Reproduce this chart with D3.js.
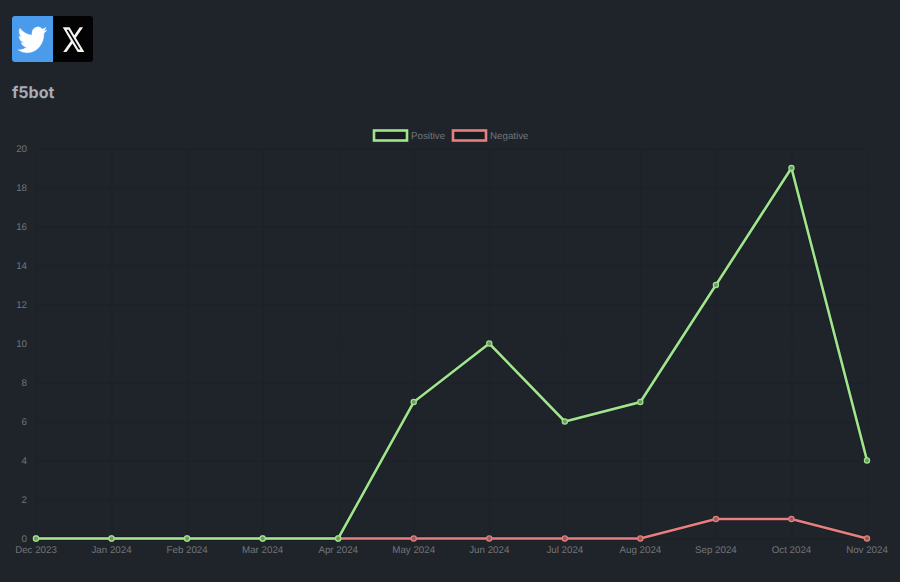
<!DOCTYPE html>
<html>
<head>
    <meta charset="utf-8">
    <title>f5bot</title>
    <script src="https://cdnjs.cloudflare.com/ajax/libs/d3/7.8.5/d3.min.js"></script>
    <style>
        html, body { margin: 0; padding: 0; background: #1f242a; }
        svg { display: block; font-family: "Liberation Sans", sans-serif; text-rendering: geometricPrecision; }
        .tick text { fill: #737578; font-size: 9.75px; }
        .grid line { stroke: #1c2126; stroke-width: 1px; stroke-opacity: 0.7; }
        .grid path, .axis path, .axis line { display: none; }
        .legend-label { fill: #737578; font-size: 9.75px; }
        .title { fill: #a8acb6; font-family: Inter, sans-serif; font-size: 16px; font-weight: 700; }
    </style>
</head>
<body>
<div class="viz"></div>
<script>
    var months = ['Dec 2023', 'Jan 2024', 'Feb 2024', 'Mar 2024', 'Apr 2024', 'May 2024',
        'Jun 2024', 'Jul 2024', 'Aug 2024', 'Sep 2024', 'Oct 2024', 'Nov 2024'];
    var positive = [0, 0, 0, 0, 0, 7, 10, 6, 7, 13, 19, 4];
    var negative = [0, 0, 0, 0, 0, 0, 0, 0, 0, 1, 1, 0];
    var yTicks = [0, 2, 4, 6, 8, 10, 12, 14, 16, 18, 20];
    var seriesNames = ['Positive', 'Negative'];
    var seriesColors = ['#a0e58c', '#e77f7f'];
    var background = '#1f242a';

    var width = 900, height = 582;
    var margin = { top: 148.5, right: 33, bottom: 43.5, left: 36 };

    var svg = d3.select('.viz').append('svg')
        .attr('width', width)
        .attr('height', height);

    svg.append('rect').attr('width', width).attr('height', height).attr('fill', background);

    // share buttons
    var twitterBird = 'M23.953 4.57a10 10 0 01-2.825.775 4.958 4.958 0 002.163-2.723c-.951.555-2.005.959-3.127 1.184a4.92 4.92 0 00-8.384 4.482C7.69 8.095 4.067 6.13 1.64 3.162a4.822 4.822 0 00-.666 2.475c0 1.71.87 3.213 2.188 4.096a4.904 4.904 0 01-2.228-.616v.06a4.923 4.923 0 003.946 4.827 4.996 4.996 0 01-2.212.085 4.936 4.936 0 004.604 3.417 9.867 9.867 0 01-6.102 2.105c-.39 0-.779-.023-1.17-.067a13.995 13.995 0 007.557 2.209c9.053 0 13.998-7.496 13.998-13.985 0-.21 0-.42-.015-.63A9.935 9.935 0 0024 4.59z';
    var xLogo = 'M18.244 2.25h3.308l-7.227 8.26 8.502 11.24H16.17l-5.214-6.817L4.99 21.75H1.68l7.73-8.835L1.254 2.25H8.08l4.713 6.231zm-1.161 17.52h1.833L7.084 4.126H5.117z';

    svg.append('rect').attr('x', 50).attr('y', 16).attr('width', 43).attr('height', 46).attr('rx', 3).attr('fill', '#030303');
    svg.append('path').attr('fill', '#4a9bec')
        .attr('d', 'M15,16H53V62H15a3,3 0 0 1 -3,-3V19a3,3 0 0 1 3,-3z');
    svg.append('path').attr('d', twitterBird).attr('fill', '#fff').attr('stroke', '#fff').attr('stroke-width', 0.3)
        .attr('transform', 'translate(18,24) scale(1.2,1.32)');
    svg.append('path').attr('d', xLogo).attr('fill', '#f4f4f4')
        .attr('transform', 'translate(61.5,24.5) scale(1,1.27)');

    svg.append('text').attr('class', 'title').attr('x', 12).attr('y', 98).text('f5bot');

    // scales
    var x = d3.scalePoint().domain(months).range([margin.left, width - margin.right]);
    var y = d3.scaleLinear().domain([0, 20]).range([height - margin.bottom, margin.top]);

    svg.append('g').attr('class', 'grid')
        .attr('transform', 'translate(' + margin.left + ',0)')
        .call(d3.axisLeft(y).tickValues(yTicks).tickSize(-(width - margin.left - margin.right)).tickFormat(''));
    svg.append('g').attr('class', 'grid')
        .attr('transform', 'translate(0,' + (height - margin.bottom) + ')')
        .call(d3.axisBottom(x).tickSize(-(height - margin.top - margin.bottom)).tickFormat(''));

    svg.append('g').attr('class', 'axis')
        .attr('transform', 'translate(' + margin.left + ',0)')
        .call(d3.axisLeft(y).tickValues(yTicks).tickSize(0).tickPadding(9));
    svg.append('g').attr('class', 'axis')
        .attr('transform', 'translate(-0.5,' + (height - margin.bottom) + ')')
        .call(d3.axisBottom(x).tickSize(0).tickPadding(8));

    // series, negative first so positive sits on top where both are 0
    var line = d3.line()
        .x(function (d, i) { return x(months[i]); })
        .y(function (d) { return y(d); });

    [negative, positive].forEach(function (values) {
        var color = seriesColors[values === positive ? 0 : 1];
        svg.append('path').datum(values)
            .attr('d', line)
            .attr('fill', 'none')
            .attr('stroke', '#12161b')
            .attr('stroke-width', 4)
            .attr('stroke-opacity', 0.45);
        svg.append('path').datum(values)
            .attr('d', line)
            .attr('fill', 'none')
            .attr('stroke', color)
            .attr('stroke-width', 2.6);
        svg.append('g').selectAll('circle').data(values).enter().append('circle')
            .attr('cx', function (d, i) { return x(months[i]); })
            .attr('cy', function (d) { return y(d); })
            .attr('r', 2.6)
            .attr('fill', d3.interpolateRgb(background, color)(0.6))
            .attr('stroke', color)
            .attr('stroke-width', 1.2);
    });

    // legend
    var legendX = [374, 453], labelX = [411, 490];
    seriesNames.forEach(function (name, i) {
        svg.append('rect')
            .attr('x', legendX[i]).attr('y', 130.5)
            .attr('width', 33).attr('height', 10)
            .attr('fill', '#171b20')
            .attr('stroke', seriesColors[i])
            .attr('stroke-width', 2.6);
        svg.append('text').attr('class', 'legend-label')
            .attr('x', labelX[i]).attr('y', 139)
            .text(name);
    });
</script>
</body>
</html>
